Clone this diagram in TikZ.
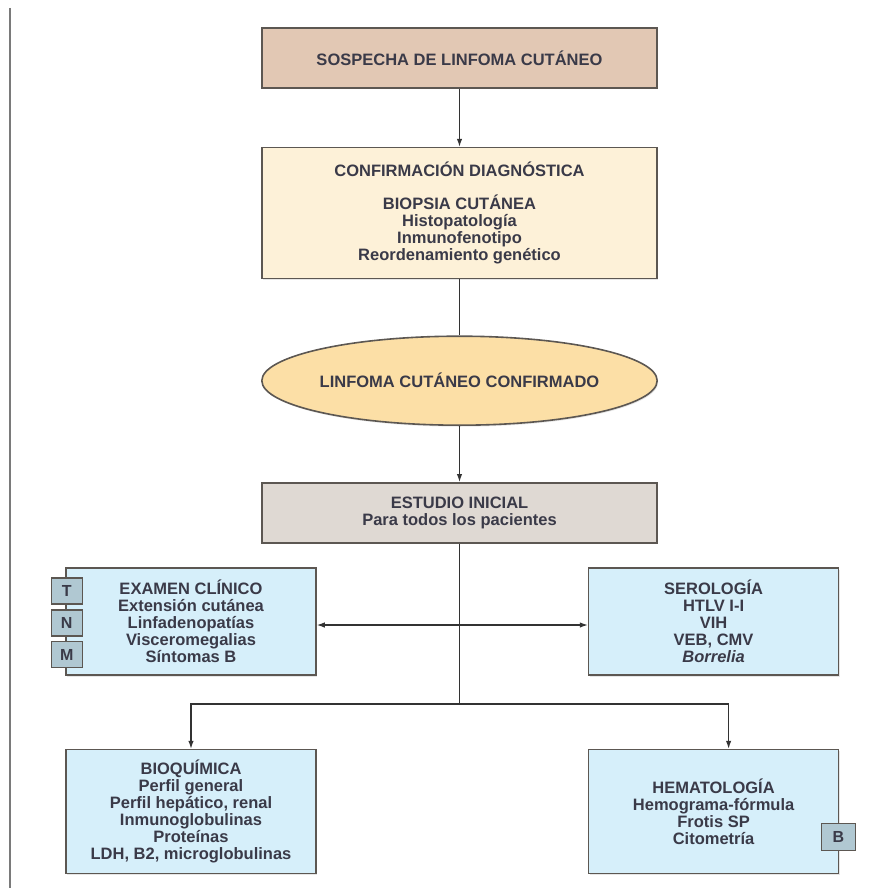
\documentclass[tikz,border=0pt]{standalone}
\usepackage{fontspec}
\setmainfont{Liberation Sans}
\usepackage{tikz}
\usetikzlibrary{arrows.meta,shapes,positioning,calc,shadows}
\definecolor{frame}{HTML}{7A7A7A}
\definecolor{edge}{HTML}{5C5752}
\definecolor{ink}{HTML}{3A3A48}
\definecolor{tan}{HTML}{E2C8B4}
\definecolor{cream}{HTML}{FDF1D8}
\definecolor{peach}{HTML}{FCDFA6}
\definecolor{stone}{HTML}{DFD9D3}
\definecolor{sky}{HTML}{D6EFFA}
\definecolor{slate}{HTML}{B0C8D2}
\tikzset{
  box/.style={draw=edge, line width=1.6pt, align=center, text=ink, inner sep=0pt,
    font=\fontsize{16.5}{17}\selectfont\bfseries,
    drop shadow={shadow xshift=1pt, shadow yshift=-1.5pt, opacity=0.2}},
  colbox/.style={box, minimum width=395, minimum height=60},
  bluebox/.style={box, fill=sky, minimum width=250},
  tabbox/.style={draw=edge, line width=1.4pt, fill=slate, text=ink, inner sep=0pt,
    font=\fontsize{16}{17}\selectfont\bfseries, minimum width=31, minimum height=26},
  link/.style={draw=black!80, line width=1.2pt},
  arr/.style={link, -{Latex[length=8pt,width=5.5pt]}},
  dblarr/.style={link, {Latex[length=8pt,width=5.5pt]}-{Latex[length=8pt,width=5.5pt]}}
}
\begin{document}
\begin{tikzpicture}[x=1pt,y=-1pt]
    \useasboundingbox (0,0) rectangle (878,888);
    \draw[frame, line width=2.5pt] (10,8) -- (10,888);

    \node[colbox, fill=tan] (sosp) at (459.5,58) {SOSPECHA DE LINFOMA CUTÁNEO};
    \node[colbox, fill=cream, minimum height=131, below=58pt of sosp] (conf)
        {CONFIRMACIÓN DIAGNÓSTICA\\[16pt]BIOPSIA CUTÁNEA\\Histopatología\\Inmunofenotipo\\Reordenamiento genético};
    \node[box, ellipse, fill=peach, minimum width=395, minimum height=89, below=56pt of conf] (linf)
        {LINFOMA CUTÁNEO CONFIRMADO};
    \node[colbox, fill=stone, below=56pt of linf] (est) {ESTUDIO INICIAL\\Para todos los pacientes};

    \node[bluebox, minimum height=107] (exam) at (191,621.5)
        {EXAMEN CLÍNICO\\Extensión cutánea\\Linfadenopatías\\Visceromegalias\\Síntomas B};
    \node[bluebox, minimum height=107, right=271pt of exam] (sero)
        {SEROLOGÍA\\HTLV I-I\\VIH\\VEB, CMV\\\textit{Borrelia}};
    \node[bluebox, minimum height=124, below=73pt of exam] (bioq)
        {BIOQUÍMICA\\Perfil general\\Perfil hepático, renal\\Inmunoglobulinas\\Proteínas\\LDH, B2, microglobulinas};
    \node[bluebox, minimum height=124, right=271pt of bioq] (hema)
        {HEMATOLOGÍA\\Hemograma-fórmula\\Frotis SP\\Citometría};

    \foreach \tag/\dy in {T/-30.5, N/1.5, M/33}
        \node[tabbox] (tab\tag) at ($(exam.west)+(1.5,\dy)$) {\tag};
    \node[tabbox, minimum width=34, minimum height=27] (tabB) at ($(hema.east)+(-1,25.5)$) {B};

    \coordinate (split) at (459.5,704);
    \draw[arr] (sosp) -- (conf);
    \draw[link] (conf) -- (linf);
    \draw[arr] (linf) -- (est);
    \draw[link] (est) -- (split);
    \draw[arr] (split) -| (bioq.north);
    \draw[arr] (split) -| ([xshift=15pt]hema.north);
    \draw[dblarr] ([yshift=-3.5pt]exam.east) -- ([yshift=-3.5pt]sero.west);
\end{tikzpicture}
\end{document}
